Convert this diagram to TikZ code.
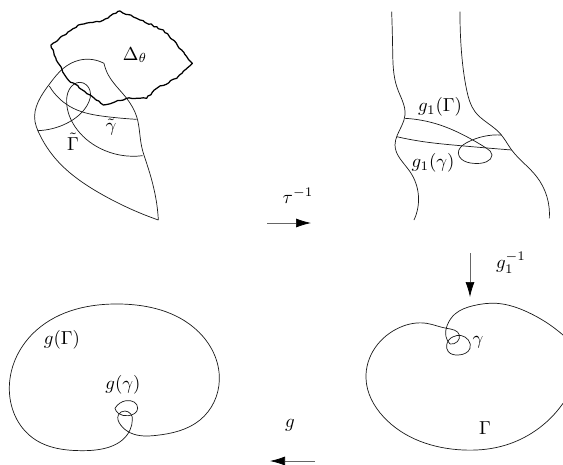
\documentclass[tikz,border=0pt]{standalone}
\usetikzlibrary{decorations.pathmorphing,arrows.meta,hobby}
\tikzset{
  curve/.style={line width=0.7pt,black!90,line join=round,use Hobby shortcut},
  blob/.style={line width=1.25pt,black,line join=round,decorate,decoration={random steps,segment length=3pt,amplitude=0.8pt}},
  mapar/.style={line width=0.7pt,black!60,-{Latex[length=15pt,width=9pt,black]}},
  lab/.style={inner sep=0pt,scale=1.88},
  zoomA/.style={x=0.33333pt,y=-0.33333pt}
}
\pgfmathsetseed{7}
\begin{document}
\begin{tikzpicture}[x=1pt,y=-1pt]
\useasboundingbox (0,0) rectangle (563,464);
% top left
\begin{scope}[zoomA]
\draw[curve] (475,660)..(470,610)..(440,490)..(425,440)..(410,350)..(380,295)..(325,225)..(312,190);
\draw[curve] (312,190)..(240,180)..(190,205)..(150,250)..(105,365)..(115,395)..(170,480)..(300,580)..(475,660);
\draw[curve] (148,258)..(220,325)..(320,350)..(410,358);
\draw[curve] (112,392)..(200,370)..(262,315)..(270,272)..(240,247)..(208,268)..(200,310)..(225,380)..(300,445)..(428,467);
\draw[blob] (153,135)--(235,75)--(300,65)--(360,33)--(420,60)--(490,90)--(545,150)--(577,190)--(530,235)--(470,265)--(440,295)--(380,295)--(310,315)--(270,285)--(205,240)--(175,190)--cycle;
\end{scope}
\node[lab] (delta) at (135,55) {$\Delta_\theta$};
\node[lab] (tg) at (73,142) {$\tilde\Gamma$};
\node[lab] (tc) at (111,127) {$\tilde\gamma$};
% top right
\begin{scope}[shift={(340pt,0pt)},zoomA]
\draw[curve] (155,35)..(158,150)..(172,265)..(195,345)..(172,405)..(165,435)..(210,515)..(222,660);
\draw[curve] (360,35)..(364,150)..(380,270)..(405,335)..(480,400)..(515,450)..(590,530)..(628,655);
\draw[curve] (195,355)..(300,375)..(380,410)..(440,445)..(456,465)..(440,485)..(400,490)..(365,478)..(355,460)..(380,428)..(485,405);
\draw[curve] (170,410)..(250,425)..(350,436)..(515,450);
\end{scope}
\node[lab] (g1G) at (440,107) {$g_1(\Gamma)$};
\node[lab] (g1c) at (433,163) {$g_1(\gamma)$};
% bottom left
\begin{scope}[shift={(0pt,-280pt)},zoomA]
\draw[curve] (397,420)..(375,393)..(355,405)..(362,435)..(390,458)..(470,466)..(600,420)..(658,300)..(590,150)..(360,72)..(110,150)..(28,320)..(100,475)..(250,512)..(390,450)..(397,420);
\draw[curve] (345,385)..(378,362)..(413,385)..(385,407)..(355,400)..(345,385);
\end{scope}
\node[lab] (gG) at (62,340) {$g(\Gamma)$};
\node[lab] (gc) at (123,385) {$g(\gamma)$};
% bottom right
\begin{scope}[shift={(340pt,-240pt)},zoomA]
\draw[curve] (330,312)..(318,290)..(322,255)..(345,222)..(400,197)..(470,190)..(560,215)..(669,285);
\draw[curve] (669,490)..(480,620)..(370,630)..(130,530)..(78,415)..(180,262)..(260,250)..(320,265)..(358,285)..(352,305)..(330,312);
\draw[curve] (340,290)..(385,300)..(390,325)..(355,345)..(325,335)..(320,315)..(340,290);
\end{scope}
\node[lab] (c) at (478,342) {$\gamma$};
\node[lab] (G) at (485,428) {$\Gamma$};
% arrows and their labels
\coordinate (a1) at (267,223); \coordinate (a2) at (311,223);
\draw[mapar] (a1) -- (a2);
\node[lab] (tau) at (298,196) {$\tau^{-1}$};
\coordinate (b1) at (470,253); \coordinate (b2) at (470,297);
\draw[mapar] (b1) -- (b2);
\node[lab] (gi) at (511,263) {$g_1^{-1}$};
\coordinate (c1) at (315,461); \coordinate (c2) at (270,461);
\draw[mapar] (c1) -- (c2);
\node[lab] (g) at (290,425) {$g$};
\end{tikzpicture}
\end{document}
